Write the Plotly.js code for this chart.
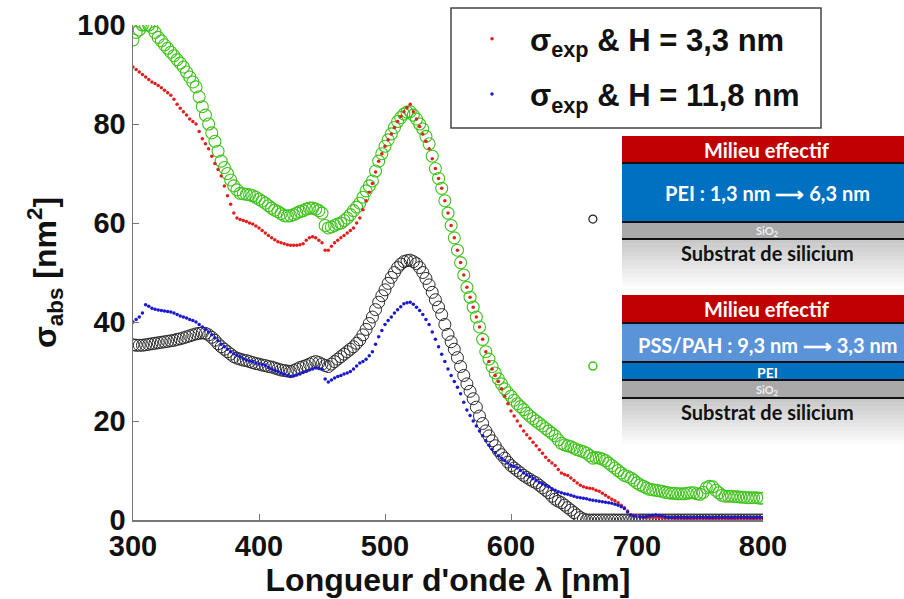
<!DOCTYPE html>
<html>
<head>
<meta charset="utf-8">
<script src="https://cdn.plot.ly/plotly-3.0.1.min.js"></script>
<style>html,body{margin:0;padding:0;background:#fff;}#chart{width:904px;height:599px;}</style>
</head>
<body>
<div id="chart"></div>
<script>
// Wavelength grid (nm)
const wavelength = [
300,302.5,305,307.5,310,312.5,315,317.5,320,322.5,325,327.5,330,332.5,335,337.5,340,342.5,345,347.5,
350,352.5,355,357.5,360,362.5,365,367.5,370,372.5,375,377.5,380,382.5,385,387.5,390,392.5,395,397.5,
400,402.5,405,407.5,410,412.5,415,417.5,420,422.5,425,427.5,430,432.5,435,437.5,440,442.5,445,447.5,
450,452.5,455,457.5,460,462.5,465,467.5,470,472.5,475,477.5,480,482.5,485,487.5,490,492.5,495,497.5,
500,502.5,505,507.5,510,512.5,515,517.5,520,522.5,525,527.5,530,532.5,535,537.5,540,542.5,545,547.5,
550,552.5,555,557.5,560,562.5,565,567.5,570,572.5,575,577.5,580,582.5,585,587.5,590,592.5,595,597.5,
600,602.5,605,607.5,610,612.5,615,617.5,620,622.5,625,627.5,630,632.5,635,637.5,640,642.5,645,647.5,
650,652.5,655,657.5,660,662.5,665,667.5,670,672.5,675,677.5,680,682.5,685,687.5,690,692.5,695,697.5,
700,702.5,705,707.5,710,712.5,715,717.5,720,722.5,725,727.5,730,732.5,735,737.5,740,742.5,745,747.5,
750,752.5,755,757.5,760,762.5,765,767.5,770,772.5,775,777.5,780,782.5,785,787.5,790,792.5,795,797.5,
800];

// sigma_exp, H = 3,3 nm (red dots)
const sigmaExpH33 = [
91.5,91,90.5,90,89.5,89,88.5,88.2,87.8,87.3,86.8,86.3,85.8,85,84,83.2,82.5,81.8,81,80.5,
80,78.5,77,76,75,73.5,72,70.8,69.5,67.5,65.5,63.8,62,61,60.7,60.5,60.3,60,59.8,59.4,
59,58.5,58,57.5,57,56.6,56.2,56,55.8,55.6,55.5,55.5,55.5,55.6,55.8,56.5,57,57.2,57,56.5,
56,54.5,54.5,55.3,56,56.5,57,57.5,58,58.5,59,60,61,62.7,64.5,66.2,68,70.3,72.5,74,
75.5,76.8,78,79.3,80.5,81.5,82.5,83.3,84,82.5,81,79.5,78,76.5,75,73,71,69,67,64.5,
62,59.5,57,54.5,52,49.5,47,45,43,41,39,36.5,34,32,30.5,29.2,28,26.5,25,23.5,
22,21,20,19,18,17.2,16.5,15.7,15,14.2,13.5,12.7,12,11.5,11,10.2,9.5,9.2,9,8.5,
8,7.5,7,6.7,6.5,6.4,6.3,6,5.8,5.4,5,4.6,4.2,3.9,3.5,3,2.5,1.8,1,0.9,
0.8,0.6,0.5,0.5,0.6,0.6,0.5,0.5,0.4,0.4,0.4,0.4,0.3,0.3,0.3,0.3,0.3,0.3,0.3,0.3,
0.3,0.3,0.3,0.3,0.3,0.3,0.3,0.3,0.3,0.3,0.3,0.3,0.3,0.3,0.3,0.3,0.3,0.3,0.3,0.3,
0.3];

// sigma_exp, H = 11,8 nm (blue dots)
const sigmaExpH118 = [
40,40.5,41,41.8,43.5,43.2,42.8,42.6,42.4,42.3,42.2,42.1,42,41.8,41.5,41.2,41,40.8,40.5,40.3,
40,39.5,39,38.5,38,37.4,36.8,36.2,35.5,35,34.5,34,33.6,33.3,33,32.6,32.3,32.1,32,31.7,
31.5,31.4,31.2,30.8,30.5,30.2,30,29.7,29.5,29.2,29,29.1,29.3,29.5,29.8,30,30.3,30.5,30.7,30.6,
30.5,28.5,27.9,28.3,28.7,29,29.2,29.5,29.7,30,30.5,31.1,31.7,32,32.5,33.2,34,35.5,37,38.3,
39.5,40.3,41,41.8,42.5,43.1,43.7,43.9,44,43.6,43,42.3,41.5,40.5,39.5,38,36.5,35,33.5,32,
30.5,29.2,28,26.8,25.5,23.8,22.2,21.1,20,19,18,17,16,15.1,14.3,13.6,13,12.5,12,11.5,
11,10.8,10.5,10,9.5,9.1,8.8,8.4,8,7.6,7.3,7,6.7,6.3,6,5.7,5.5,5.3,5.2,5,
4.8,4.6,4.5,4.4,4.3,4.1,4,3.9,3.8,3.7,3.6,3.5,3.4,3.2,3,2.7,2.3,1.6,1,0.8,
0.7,0.6,0.6,0.7,0.8,0.9,1,0.9,0.8,0.6,0.5,0.5,0.5,0.5,0.5,0.5,0.5,0.5,0.5,0.5,
0.5,0.5,0.5,0.5,0.5,0.5,0.5,0.5,0.5,0.5,0.5,0.5,0.5,0.5,0.5,0.5,0.5,0.5,0.5,0.5,
0.5];

// model, PSS/PAH stack (green circles)
const sigmaModelPSS = [
97,98.5,99,100,100,100,99.5,98.5,97.5,96.8,96,95.3,94.5,93.8,93,92.3,91.5,90.5,89.5,88.5,
87.5,85.5,83.5,81.8,80,78.2,76.5,74.5,72.5,71.2,70,68.7,67.5,66.7,66,65.9,65.8,65.7,65.5,65.2,
64.8,64.4,64,63.5,63,62.6,62.3,61.9,61.5,61.4,61.5,61.7,62,62.3,62.5,62.8,63,63,62.8,62.5,
62,59.5,59,59.2,59.5,59.8,60,60.5,61,61.7,62.5,63.2,64,65.2,66.5,67.5,68.5,70.5,72.5,74,
75.5,76.8,78,79.3,80.5,81.3,82,82.4,82.5,81.8,81,80,79,77.5,76,73.5,71,69,67,64.5,
62,59.5,57,54.5,52,49.5,47,45,43,41,39,36.5,34,32.5,31,29.7,28.5,27.5,26.5,25.7,
25,24.2,23.5,22.9,22.3,21.6,21,20.5,20,19.5,19,18.5,18,17.5,17,16.2,15.5,15.2,15,14.8,
14.5,14.2,14,13.8,13.5,13,12.5,12.6,12.5,12.3,12,11.5,11,10.5,10,9.5,9,8.8,8.5,8,
7.5,7.1,6.8,6.5,6.2,6.1,6,5.9,5.8,5.6,5.5,5.4,5.4,5.3,5.3,5.3,5.4,5.5,5.5,5.3,
5.2,5.6,6.5,6.8,6.7,6,5.5,5,4.8,4.8,4.8,4.7,4.7,4.6,4.6,4.5,4.5,4.5,4.5,4.4,
4.4];

// model, PEI stack (black circles)
const sigmaModelPEI = [
35.4,35.3,35.3,35.3,35.4,35.5,35.6,35.7,35.8,35.9,36,36.1,36.2,36.3,36.5,36.6,36.8,37,37.2,37.4,
37.6,37.7,37.8,37.7,37.4,36.9,36.3,35.6,35,34.5,34,33.5,33,32.7,32.5,32.3,32.2,32,31.8,31.6,
31.5,31.3,31.2,31,30.9,30.7,30.5,30.3,30.2,30.1,30,30.2,30.5,30.8,31,31.2,31.5,31.8,32,31.8,
31.5,31.2,31,31.5,32,32.5,33,33.5,34,34.5,35,35.7,36.4,37.4,38.5,39.7,41,42.5,44,45.3,
46.5,47.8,49,50,51,51.7,52.2,52.4,52.5,52.2,51.8,51,50,48.8,47.5,46,44.5,43,41.5,39.5,
37.5,36,34.5,32.8,31,29.2,27.5,26,24.5,22.8,21,19.5,18,17,16,15,14,13.2,12.5,11.7,
11,10.5,10,9.5,9,8.6,8.2,7.8,7.5,7,6.5,6,5.5,4.8,4.2,3.8,3.5,3,2.5,2,
1.5,1,0.5,0.2,0,0,0,0,0,0,0,0,0,0,0,0,0,0,0,0,
0,0,0,0,0,0,0,0,0,0,0,0,0,0,0,0,0,0,0,0,
0,0,0,0,0,0,0,0,0,0,0,0,0,0,0,0,0,0,0,0,
0];

// stray symbols beside the schematics
const keyBlackX = [665], keyBlackY = [60.8];
const keyGreenX = [665], keyGreenY = [31.1];

const legendNames = ['σ<sub>exp</sub> & H = 3,3 nm', 'σ<sub>exp</sub> & H = 11,8 nm'];

// pixel -> paper helpers (plot area 133..763 x 25..520)
const PL = 133, PR = 763, PT = 25, PB = 520;
const xp = px => (px - PL) / (PR - PL);
const yp = py => (PB - py) / (PB - PT);

const AF = 'Liberation Sans, Arial, sans-serif';
const SF = 'Lato, Open Sans, sans-serif';

const traces = [
  {x: wavelength, y: sigmaModelPSS, mode: 'markers', type: 'scatter', showlegend: false,
   marker: {symbol: 'circle-open', size: 12, color: '#3fc21c', line: {width: 1.1}}},
  {x: wavelength, y: sigmaModelPEI, mode: 'markers', type: 'scatter', showlegend: false,
   marker: {symbol: 'circle-open', size: 12, color: '#2a2a2a', line: {width: 1}}},
  {x: wavelength, y: sigmaExpH33, mode: 'markers', type: 'scatter', name: legendNames[0], legendgroup: 'a',
   marker: {symbol: 'circle', size: 3.5, color: '#e21f1f'}},
  {x: wavelength, y: sigmaExpH118, mode: 'markers', type: 'scatter', name: legendNames[1], legendgroup: 'b',
   marker: {symbol: 'circle', size: 3.5, color: '#1a1acc'}},
  {x: keyBlackX, y: keyBlackY, mode: 'markers', type: 'scatter', showlegend: false, cliponaxis: false,
   marker: {symbol: 'circle-open', size: 8, color: '#222', line: {width: 1.2}}},
  {x: keyGreenX, y: keyGreenY, mode: 'markers', type: 'scatter', showlegend: false, cliponaxis: false,
   marker: {symbol: 'circle-open', size: 8, color: '#3fc21c', line: {width: 1.5}}}
];

const shapes = [];
const annotations = [];
function rect(x0, y0, x1, y1, fill, line) {
  shapes.push({type: 'rect', xref: 'paper', yref: 'paper', x0: xp(x0), x1: xp(x1), y0: yp(y1), y1: yp(y0),
    fillcolor: fill, line: line || {width: 0}, layer: 'above'});
}
function hline(x0, x1, y, w) {
  shapes.push({type: 'line', xref: 'paper', yref: 'paper', x0: xp(x0), x1: xp(x1), y0: yp(y), y1: yp(y),
    line: {color: '#111', width: w || 2}, layer: 'above'});
}
function label(text, x, y, size, color, weight) {
  annotations.push({xref: 'paper', yref: 'paper', x: xp(x), y: yp(y), xanchor: 'center', yanchor: 'middle',
    text: text, showarrow: false, font: {family: SF, size: size, color: color, weight: weight || 'bold'}});
}
function gradient(x0, y0, y1) {
  const n = 12;
  for (let i = 0; i < n; i++) {
    const a = y0 + (y1 - y0) * i / n, b = y0 + (y1 - y0) * (i + 1) / n;
    const g = Math.round(200 + (255 - 200) * i / (n - 1));
    rect(x0, a, 904, b + 0.5, `rgb(${g},${g},${g})`);
  }
}

// legend frame
rect(451, 8, 821, 128, 'rgba(255,255,255,0)', {color: '#444', width: 1.5});

// schematic 1
const SX = 622, CX = 767;
rect(SX, 136, 904, 163, '#c00000');
rect(SX, 163, 904, 222, '#0070c0');
rect(SX, 222, 904, 239, '#a9a9a9');
gradient(SX, 239, 290);
hline(SX, 904, 163, 2); hline(SX, 904, 222, 2); hline(SX, 904, 239, 2);
label('Milieu effectif', CX, 150, 20, '#ffffff');
label('PEI : 1,3 nm ⟶ 6,3 nm', CX, 193, 20, '#ffffff');
label('SiO<sub>2</sub>', CX, 231, 11, '#eeeeee');
label('Substrat de silicium', CX, 253, 20, '#111111');

// schematic 2
rect(SX, 295, 904, 323, '#c00000');
rect(SX, 323, 904, 362, '#5b93d8');
rect(SX, 362, 904, 380, '#0070c0');
rect(SX, 380, 904, 398, '#a9a9a9');
gradient(SX, 398, 448);
hline(SX, 904, 323, 2); hline(SX, 904, 362, 2); hline(SX, 904, 380, 2); hline(SX, 904, 398, 2);
label('Milieu effectif', CX, 309, 20, '#ffffff');
label('PSS/PAH : 9,3 nm ⟶ 3,3 nm', CX, 345, 20, '#ffffff');
label('PEI', CX, 372, 14, '#ffffff');
label('SiO<sub>2</sub>', CX, 390, 11, '#eeeeee');
label('Substrat de silicium', CX, 412, 20, '#111111');

const layout = {
  width: 904, height: 599,
  margin: {l: PL, r: 904 - PR, t: PT, b: 599 - PB, pad: 0},
  paper_bgcolor: '#ffffff', plot_bgcolor: '#ffffff',
  showlegend: true,
  legend: {x: xp(454), y: yp(12), xanchor: 'left', yanchor: 'top', bgcolor: 'rgba(0,0,0,0)', borderwidth: 0,
    font: {family: AF, size: 31, color: '#111', weight: 'bold'}, traceorder: 'grouped', tracegroupgap: 12,
    itemwidth: 66},
  xaxis: {range: [300, 800], tickvals: [300, 400, 500, 600, 700, 800], ticks: 'inside', ticklen: 6,
    tickcolor: '#777', showline: true, linecolor: '#777', linewidth: 1.5, showgrid: false, zeroline: false,
    tickfont: {family: AF, size: 29, color: '#111', weight: 'bold'},
    title: {text: "Longueur d'onde λ [nm]", font: {family: AF, size: 32, color: '#111', weight: 'bold'}, standoff: 2}},
  yaxis: {range: [0, 100], tickvals: [0, 20, 40, 60, 80, 100], ticks: 'inside', ticklen: 6,
    tickcolor: '#777', showline: true, linecolor: '#777', linewidth: 1.5, showgrid: false, zeroline: false,
    tickfont: {family: AF, size: 29, color: '#111', weight: 'bold'},
    title: {text: 'σ<sub>abs</sub> [nm<sup>2</sup>]', font: {family: AF, size: 32, color: '#111', weight: 'bold'}, standoff: 11}},
  shapes: shapes,
  annotations: annotations
};

Plotly.newPlot('chart', traces, layout, {displayModeBar: false, staticPlot: true});
</script>
</body>
</html>
